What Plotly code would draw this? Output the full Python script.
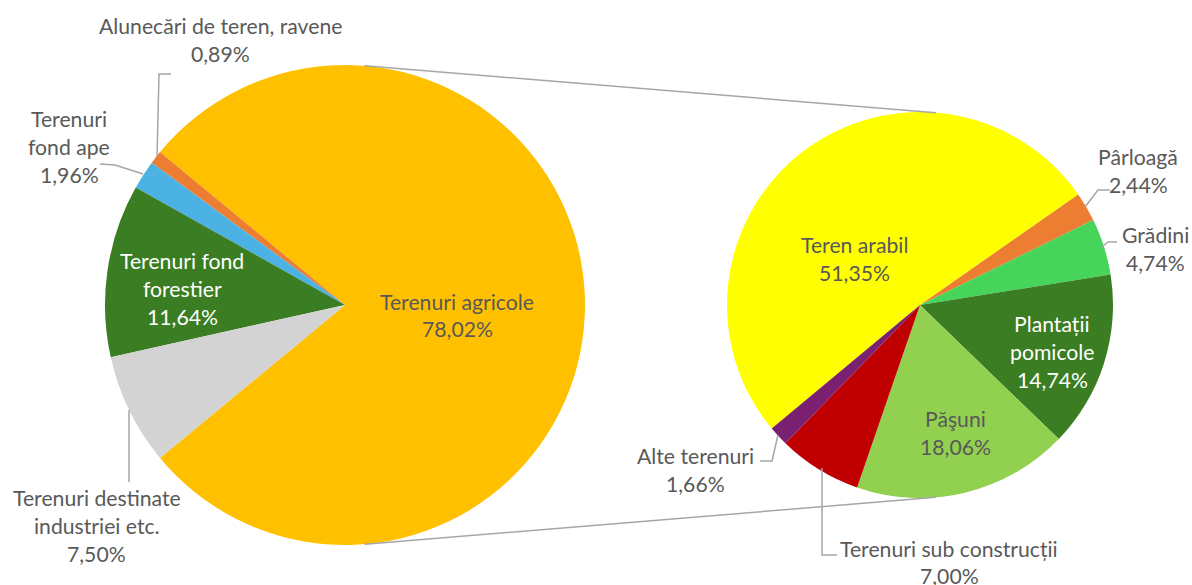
import math
import plotly.graph_objects as go

# ---------------- data ----------------
main_labels = ["Terenuri agricole", "Alunecări de teren, ravene", "Terenuri fond ape",
               "Terenuri fond forestier", "Terenuri destinate industriei etc."]
main_values = [78.02, 0.89, 1.96, 11.64, 7.50]

sub_labels = ["Teren arabil", "Pârloagă", "Grădini", "Plantații pomicole", "Păşuni",
              "Terenuri sub construcții", "Alte terenuri"]
sub_values = [51.35, 2.44, 4.74, 14.74, 18.06, 7.00, 1.66]

# ---------------- styling ----------------
W, H = 1192, 585
main_colors = ["#FFC000", "#ED7D31", "#4BB2E3", "#3A7D22", "#D3D3D3"]
sub_colors = ["#FFFF00", "#ED7D31", "#47D45B", "#3A7D22", "#92D050", "#C00000", "#7B2071"]

C1, R1 = (345, 305), 240   # main pie centre / radius (px)
C2, R2 = (920, 305), 193   # secondary pie centre / radius (px)

FONT = "Lato"
FS = 21.2
GRAY = "#595959"
LINE = "#A6A6A6"
LS = 27.7  # line spacing px

# label layout: line wrapping, block centre (px), colour
label_layout = {
    "Terenuri agricole": (["Terenuri agricole"], (457, 315.5), GRAY),
    "Alunecări de teren, ravene": (["Alunecări de teren, ravene"], (220, 40), GRAY),
    "Terenuri fond ape": (["Terenuri", "fond ape"], (69, 147), GRAY),
    "Terenuri fond forestier": (["Terenuri fond", "forestier"], (182, 289), "white"),
    "Terenuri destinate industriei etc.": (["Terenuri destinate", "industriei etc."], (97, 526), GRAY),
    "Teren arabil": (["Teren arabil"], (855, 259), GRAY),
    "Pârloagă": (["Pârloagă"], (1138, 171), GRAY),
    "Grădini": (["Grădini"], (1155, 249), GRAY),
    "Plantații pomicole": (["Plantații", "pomicole"], (1052, 352), "white"),
    "Păşuni": (["Păşuni"], (955, 433), GRAY),
    "Terenuri sub construcții": (["Terenuri sub construcții"], (949, 562.5), GRAY),
    "Alte terenuri": (["Alte terenuri"], (695, 470), GRAY),
}

leaders = [
    [(171, 74), (159, 74), (157, 157)],
    [(100, 164), (115, 165), (143, 174)],
    [(129, 410), (129, 482)],
    [(1110, 190), (1098, 190), (1085, 207)],
    [(1117, 242), (1108, 242), (1102, 247)],
    [(760, 461), (772, 461), (778, 435)],
    [(822, 468), (822, 555), (837, 555)],
]


def px(x):
    return x / W


def py(y):
    return 1 - y / H


def norm(a):
    return (a + 180) % 360 - 180


def dom(c, r):
    return dict(x=[px(c[0] - r), px(c[0] + r)], y=[py(c[1] + r), py(c[1] - r)])


tot_main = sum(main_values)
agri_frac = main_values[0] / tot_main
rot_main = norm(90 - agri_frac * 180)   # first slice centred on the right side
rot_sub = norm(-129.8)

fig = go.Figure()
fig.add_trace(go.Pie(
    labels=main_labels, values=main_values, sort=False, direction="counterclockwise",
    rotation=rot_main, marker=dict(colors=main_colors, line=dict(width=0)),
    textinfo="none", hoverinfo="label+percent", domain=dom(C1, R1), showlegend=False,
))
fig.add_trace(go.Pie(
    labels=sub_labels, values=sub_values, sort=False, direction="clockwise",
    rotation=rot_sub, marker=dict(colors=sub_colors, line=dict(width=0)),
    textinfo="none", hoverinfo="label+percent", domain=dom(C2, R2), showlegend=False,
))

annotations = []


def fmt(v):
    return f"{v:.2f}".replace(".", ",") + "%"


for labels, values in ((main_labels, main_values), (sub_labels, sub_values)):
    for lab, val in zip(labels, values):
        lines, (cx, cy), col = label_layout[lab]
        lines = lines + [fmt(val)]
        n = len(lines)
        for i, t in enumerate(lines):
            yy = cy + (i - (n - 1) / 2) * LS
            annotations.append(dict(
                text=t, x=px(cx), y=py(yy), xref="paper", yref="paper",
                xanchor="center", yanchor="middle", showarrow=False,
                font=dict(family=FONT, size=FS, color=col),
            ))

shapes = []
# connector tangent lines between the two pies
d = C2[0] - C1[0]
theta = math.acos((R1 - R2) / d)
for s in (-1, 1):
    x1 = C1[0] + R1 * math.cos(theta)
    y1 = C1[1] + s * R1 * math.sin(theta)
    x2 = C2[0] + R2 * math.cos(theta)
    y2 = C2[1] + s * R2 * math.sin(theta)
    shapes.append(dict(type="line", xref="paper", yref="paper",
                       x0=px(x1), y0=py(y1), x1=px(x2), y1=py(y2),
                       line=dict(color=LINE, width=1.5)))

for pts in leaders:
    path = "M" + " L".join(f"{px(a):.5f},{py(b):.5f}" for a, b in pts)
    shapes.append(dict(type="path", xref="paper", yref="paper", path=path,
                       line=dict(color=LINE, width=1.5)))

fig.update_layout(
    width=W, height=H, autosize=False,
    margin=dict(l=0, r=0, t=0, b=0),
    paper_bgcolor="white", plot_bgcolor="white",
    annotations=annotations, shapes=shapes,
    font=dict(family=FONT, size=FS, color=GRAY),
)

fig.write_html("out.html", config={"displayModeBar": False},
               post_script="document.body.style.margin='0px';")
